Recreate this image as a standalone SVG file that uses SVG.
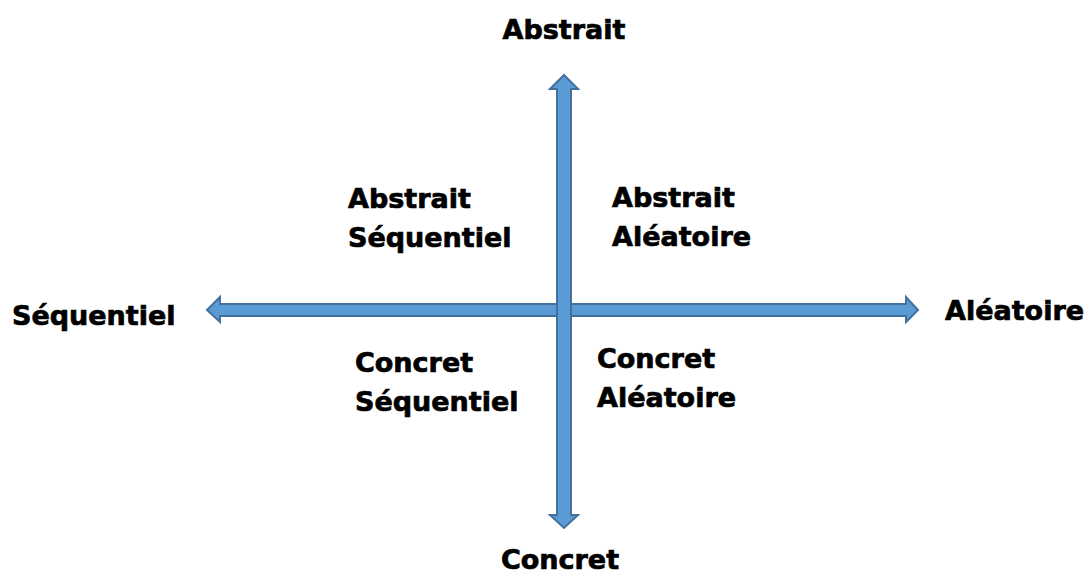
<svg xmlns="http://www.w3.org/2000/svg" width="1092" height="574" viewBox="0 0 1092 574">
<style>
.arrow{fill:#5B9BD5;stroke:#41719C;stroke-width:2;stroke-linejoin:miter}
.lbl{font-family:"DejaVu Sans",Verdana,sans-serif;font-weight:bold;font-size:27px;fill:#000;stroke:#000;stroke-width:0.7}
</style>
<rect width="1092" height="574" fill="#fff"/>
<g id="connectors">
<polygon class="arrow" points="207,310 220,297 220,304 906,304 906,297 918,310 906,322 906,316 220,316 220,322"/>
<polygon class="arrow" points="564,75 578,89 571,89 571,515 578,515 564,528 550,515 557,515 557,89 550,89"/>
</g>
<g id="axis-abstrait"><text class="lbl" x="564" y="39" text-anchor="middle">Abstrait</text></g>
<g id="axis-concret"><text class="lbl" x="560" y="569" text-anchor="middle">Concret</text></g>
<g id="axis-sequentiel"><text class="lbl" x="12" y="325">Séquentiel</text></g>
<g id="axis-aleatoire"><text class="lbl" x="945" y="320">Aléatoire</text></g>
<g id="q-abstrait-sequentiel"><text class="lbl" x="348" y="208">Abstrait</text><text class="lbl" x="348" y="247">Séquentiel</text></g>
<g id="q-abstrait-aleatoire"><text class="lbl" x="612" y="207">Abstrait</text><text class="lbl" x="612" y="246">Aléatoire</text></g>
<g id="q-concret-sequentiel"><text class="lbl" x="355" y="372">Concret</text><text class="lbl" x="355" y="411">Séquentiel</text></g>
<g id="q-concret-aleatoire"><text class="lbl" x="597" y="368">Concret</text><text class="lbl" x="597" y="407">Aléatoire</text></g>
</svg>
